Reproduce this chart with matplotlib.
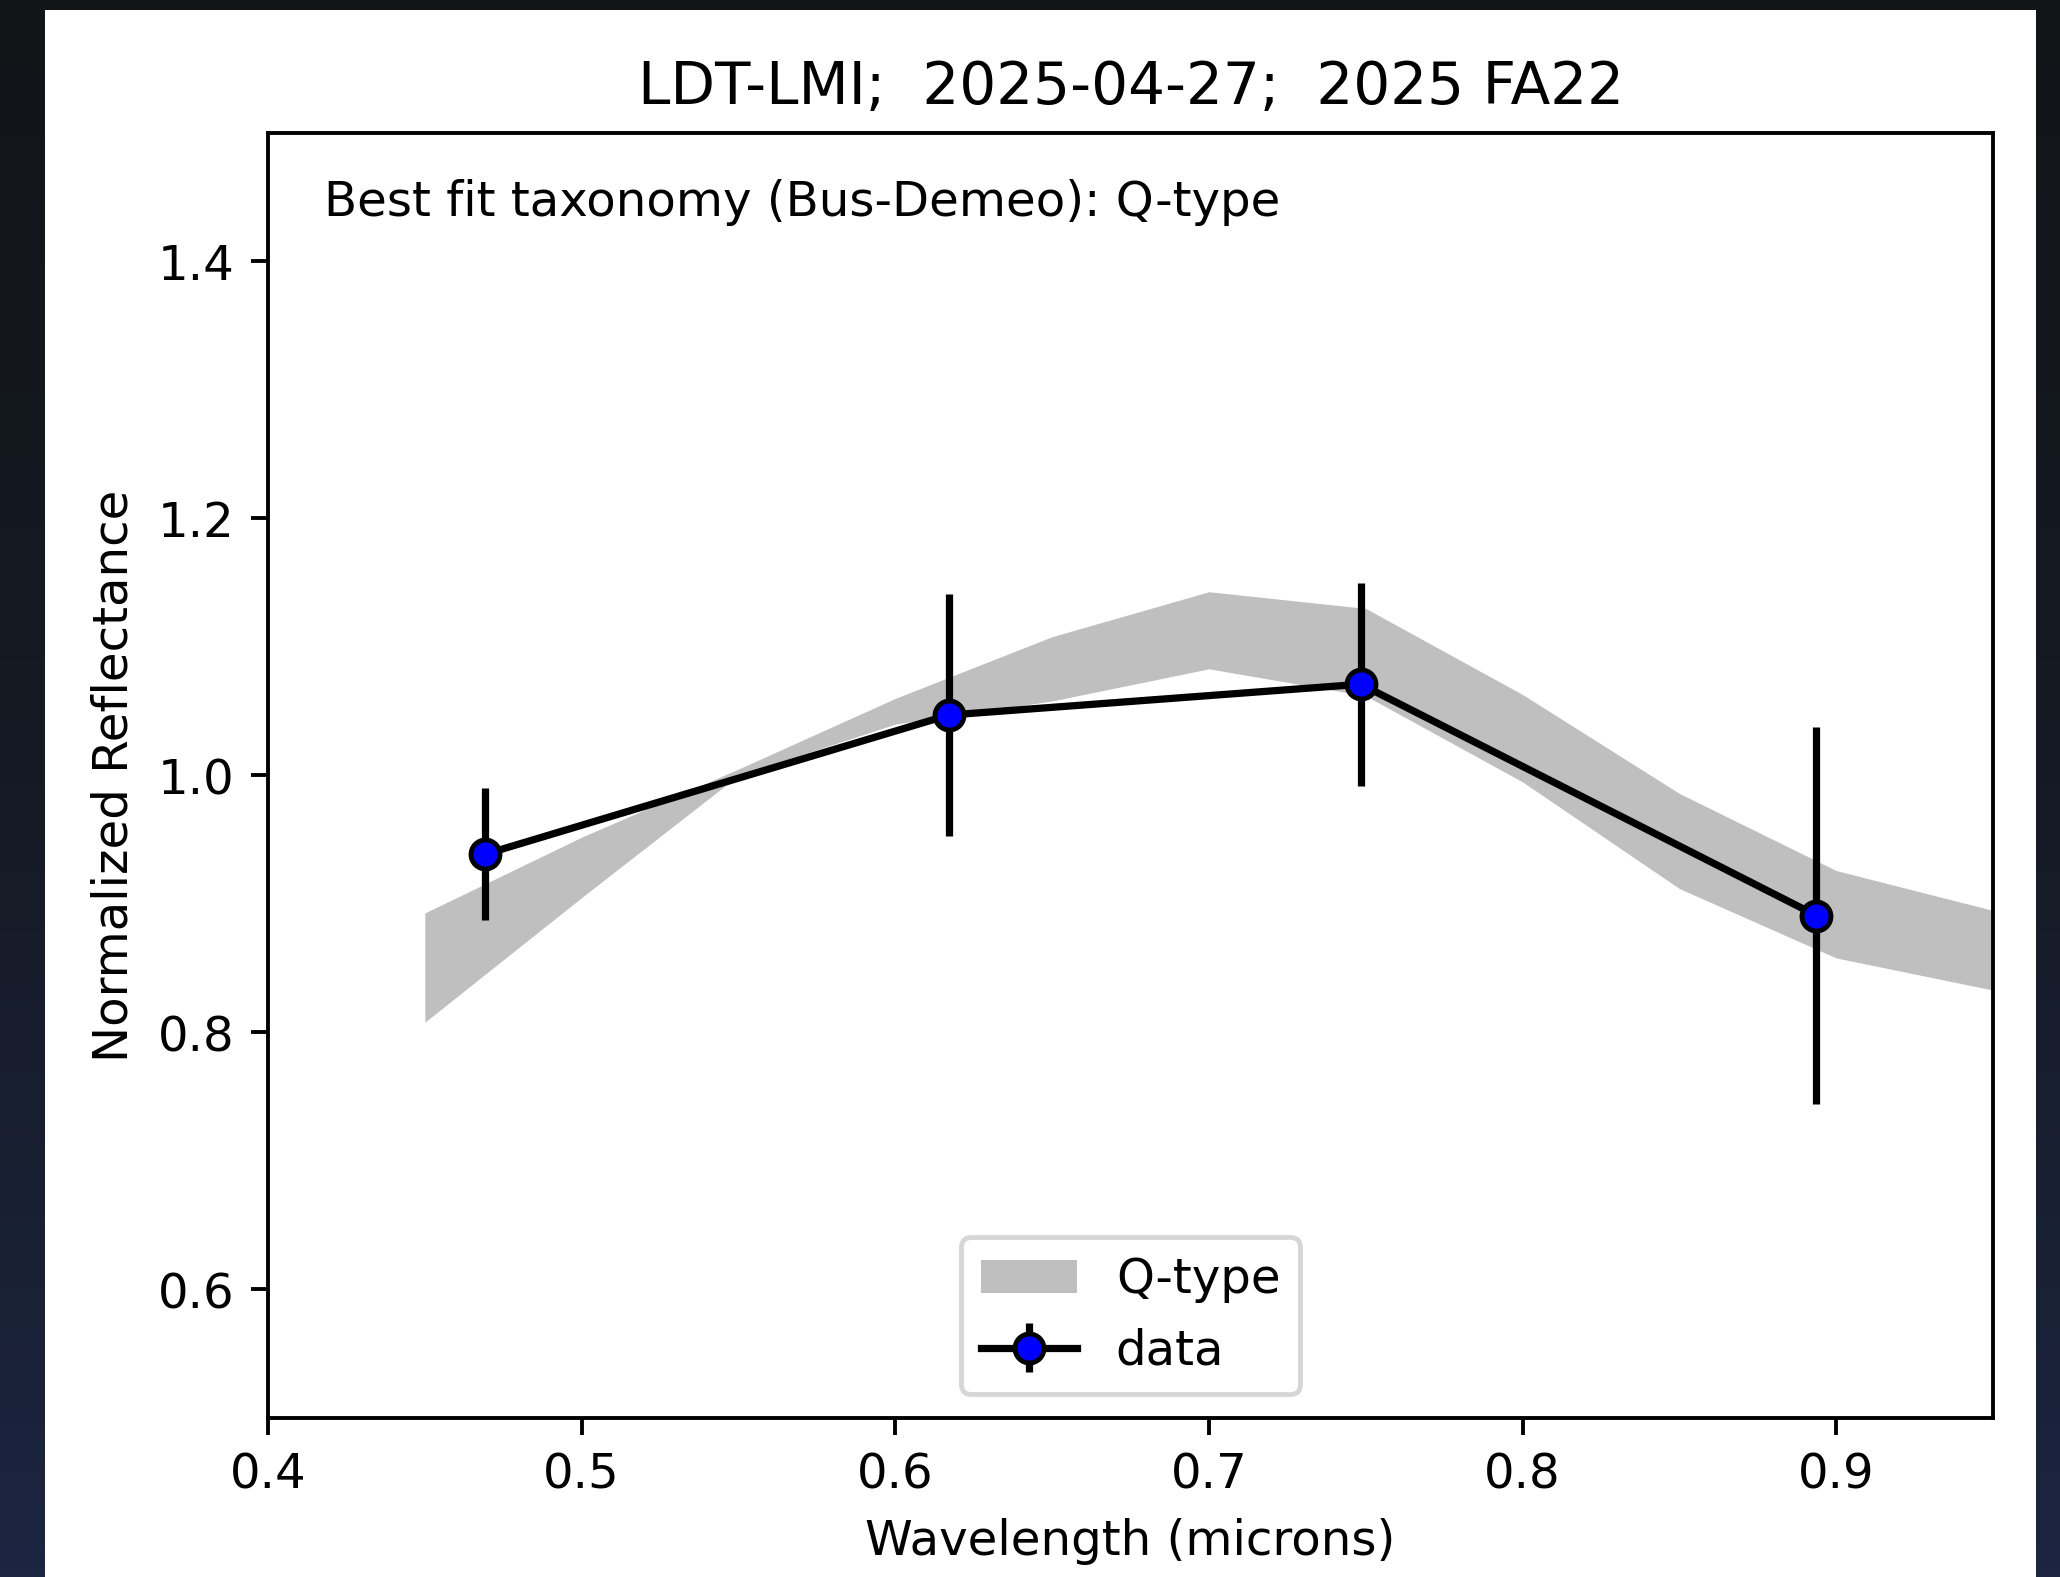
import numpy as np
import matplotlib
matplotlib.use("Agg")
import matplotlib.pyplot as plt
from matplotlib.patches import Rectangle

# photometry of 2025 FA22 (g, r, i, z)
wave = [0.4692, 0.617, 0.7484, 0.8937]
refl = [0.9387, 1.047, 1.071, 0.891]
refl_err = [0.0515, 0.094, 0.079, 0.147]

# Bus-DeMeo Q-type envelope
q_wave = [0.45, 0.50, 0.55, 0.60, 0.65, 0.70, 0.75, 0.80, 0.85, 0.90, 0.95]
q_upper = [0.893, 0.952, 1.005, 1.060, 1.108, 1.143, 1.130, 1.063, 0.986, 0.926, 0.895]
q_lower = [0.808, 0.905, 1.000, 1.040, 1.058, 1.083, 1.062, 0.995, 0.912, 0.858, 0.833]

DPI = 347.8
W, H = 2060, 1577
fig = plt.figure(figsize=((W + 0.05) / DPI, (H + 0.05) / DPI), dpi=DPI)

# dark screenshot background around the white figure
bg = fig.add_axes([0, 0, 1, 1], zorder=-10)
grad = np.linspace(0, 1, 256).reshape(-1, 1)
cmap = matplotlib.colors.LinearSegmentedColormap.from_list(
    "bg", ["#121418", "#151a24", "#1c2541"])
bg.imshow(grad, aspect="auto", cmap=cmap, extent=[0, 1, 0, 1], origin="upper")
bg.add_patch(Rectangle((45 / W, 0), (2036 - 45) / W, (H - 10) / H,
                       facecolor="white", edgecolor="none"))
bg.set_xlim(0, 1)
bg.set_ylim(0, 1)
bg.axis("off")

ax = fig.add_axes([268 / W, 1 - 1418 / H, 1725 / W, 1285 / H])
ax.fill_between(q_wave, q_lower, q_upper, color="#bfbfbf", linewidth=0, label="Q-type")
ax.errorbar(wave, refl, yerr=refl_err, fmt="-o", color="black",
            mfc="blue", mec="black", label="data")

ax.set_xlim(0.4, 0.95)
ax.set_ylim(0.5, 1.5)
ax.set_yticks([0.6, 0.8, 1.0, 1.2, 1.4])
ax.set_xlabel("Wavelength (microns)")
ax.set_ylabel("Normalized Reflectance")
ax.set_title("LDT-LMI;  2025-04-27;  2025 FA22", fontsize=12)
ax.text(0.0325, 0.964, "Best fit taxonomy (Bus-Demeo): Q-type",
        transform=ax.transAxes, va="top", ha="left")
ax.legend(loc="lower center")

fig.savefig("out.png", dpi=DPI)
